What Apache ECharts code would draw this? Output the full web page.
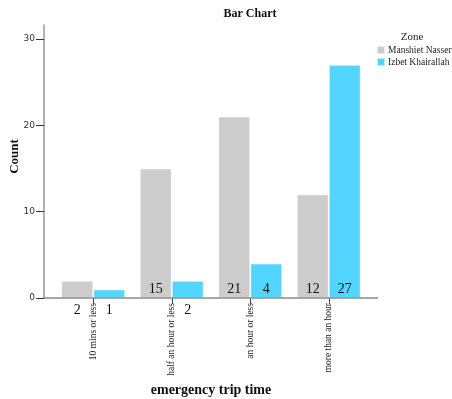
<!DOCTYPE html>
<html>
<head>
<meta charset="utf-8">
<script src="https://cdn.jsdelivr.net/npm/echarts@6/dist/echarts.min.js"></script>
<style>html,body{margin:0;padding:0;background:#fff;}#c{width:452px;height:399px;}</style>
</head>
<body>
<div id="c"></div>
<script>
const categories = ['10 mins or less', 'half an hour or less', 'an hour or less', 'more than an hour'];
const manshietNasser = [2, 15, 21, 12];
const izbetKhairallah = [1, 2, 4, 27];
const yTicks = [0, 10, 20, 30];
const seriesNames = ['Manshiet Nasser', 'Izbet Khairallah'];
const colors = ['#cccccc', '#52d5ff'];

const serif = '"Liberation Serif", "DejaVu Serif", serif';
const chart = echarts.init(document.getElementById('c'));

function mkData(vals) {
  return vals.map(v => ({
    value: v,
    label: v >= 4 ? { position: 'insideBottom', distance: 2 } : { position: 'bottom', distance: 5 }
  }));
}

function mkSeries(name, vals, color) {
  return {
    name: name,
    type: 'bar',
    barWidth: 32,
    barGap: '0%',
    data: mkData(vals),
    itemStyle: { color: color, borderColor: 'rgba(255,255,255,0.6)', borderWidth: 1 },
    label: { show: true, fontFamily: serif, fontSize: 14, color: '#111' },
    emphasis: { disabled: true }
  };
}

chart.setOption({
  animation: false,
  color: colors,
  title: [
    { text: 'Bar Chart', left: 250, top: 8, padding: 0, textAlign: 'center',
      textStyle: { fontFamily: serif, fontWeight: 'bold', fontSize: 12, color: '#111' } },
    { text: 'Zone', left: 412, top: 32, padding: 0, textAlign: 'center',
      textStyle: { fontFamily: serif, fontWeight: 'normal', fontSize: 11, color: '#222' } }
  ],
  legend: {
    orient: 'vertical', left: 376, top: 45, itemWidth: 8, itemHeight: 8, itemGap: 2,
    icon: 'rect', selectedMode: false, padding: 0,
    textStyle: { fontFamily: serif, fontSize: 9.5, color: '#222', padding: [0, 0, 0, -2] },
    data: seriesNames
  },
  grid: { left: 54, width: 314, top: 25, bottom: 101, containLabel: false, outerBoundsMode: 'none' },
  xAxis: {
    type: 'category', data: categories,
    name: 'emergency trip time', nameLocation: 'middle', nameGap: 85, nameMoveOverlap: false,
    nameTextStyle: { fontFamily: serif, fontWeight: 'bold', fontSize: 14, color: '#111' },
    axisLine: { show: false },
    axisTick: { show: true, alignWithLabel: true, length: 6, lineStyle: { color: '#444' } },
    axisLabel: { rotate: 90, margin: 5, fontFamily: serif, fontSize: 9.5, color: '#222', interval: 0 }
  },
  yAxis: {
    type: 'value', min: 0, max: 31.6, offset: 10,
    name: 'Count', nameLocation: 'middle', nameGap: 23, nameMoveOverlap: false,
    nameTextStyle: { fontFamily: serif, fontWeight: 'bold', fontSize: 13, color: '#111', padding: [0, 0, 0, 10] },
    axisLine: { show: true, lineStyle: { color: '#999', width: 1.5 } },
    axisTick: { show: true, length: 8, customValues: yTicks, lineStyle: { color: '#333' } },
    axisLabel: { customValues: yTicks, fontFamily: '"DejaVu Sans", sans-serif', fontSize: 9, color: '#333', margin: 9 },
    splitLine: { show: false }
  },
  series: [
    mkSeries(seriesNames[0], manshietNasser, colors[0]),
    mkSeries(seriesNames[1], izbetKhairallah, colors[1])
  ]
});

// baseline axis line, extended past the category bands like the reference
const p0 = chart.convertToPixel({ gridIndex: 0 }, [0, 0]);
const gridRect = chart.getModel().getComponent('grid', 0).coordinateSystem.getRect();
chart.setOption({
  graphic: [{
    type: 'line', z: 10,
    shape: { x1: gridRect.x - 10, y1: p0[1], x2: gridRect.x + gridRect.width + 10, y2: p0[1] },
    style: { stroke: '#888', lineWidth: 1.5 }
  }]
});
</script>
</body>
</html>
